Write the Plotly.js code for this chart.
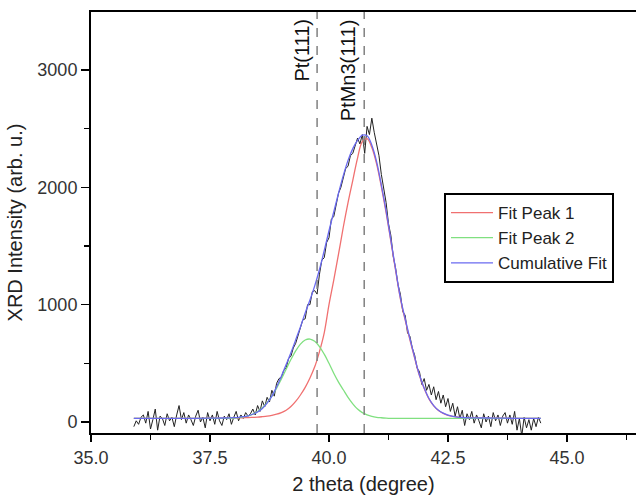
<!DOCTYPE html>
<html>
<head>
<meta charset="utf-8">
<script src="https://cdn.plot.ly/plotly-3.0.1.min.js"></script>
<style>html,body{margin:0;padding:0;background:#fff;}#chart{width:636px;height:500px;}</style>
</head>
<body>
<div id="chart"></div>
<script>
// Measured XRD data: start angle, step, intensities (rows of 10 = 0.5 degree each)
const dataStart = 35.90;
const dataStep = 0.05;
const dataIntensity = [
  -40, 10, -20, 40, 60, -10, 90, -60, 20, 110,          // 35.90
  -70, 50, 30, -30, 70, 10, 40, -40, 60, 140,           // 36.40
  20, 80, -10, 60, 20, -30, 50, 100, 0, 40,             // 36.90
  -50, 80, 10, 60, -20, 90, 10, -30, 50, 20,            // 37.40
  70, -20, 40, 90, 10, 60, 30, 80, 50, 70,              // 37.90
  110, 60, 140, 90, 180, 130, 210, 170, 270, 220,       // 38.40
  330, 370, 380, 440, 460, 540, 560, 630, 670, 740,     // 38.90
  790, 870, 880, 1000, 1000, 1110, 1120, 1090, 1260, 1380, // 39.40
  1400, 1530, 1570, 1730, 1750, 1850, 1950, 2000, 2070, 2160, // 39.90
  2180, 2270, 2290, 2360, 2420, 2370, 2450, 2290, 2520, 2450, // 40.40
  2590, 2470, 2360, 2270, 2110, 2000, 1870, 1690, 1590, 1410, // 40.90
  1310, 1170, 1090, 940, 910, 760, 730, 630, 570, 460,  // 41.40
  430, 320, 370, 270, 320, 230, 300, 190, 260, 160,     // 41.90
  230, 130, 200, 90, 160, 50, 130, 30, 100, -30,        // 42.40
  70, 20, 90, -10, 60, 10, -50, 70, 0, 50,              // 42.90
  -40, 80, 10, 60, -30, 50, 80, -10, 60, -20,           // 43.40
  90, -70, 30, -120, 40, -50, 20, -70, 30, -40,         // 43.90
  40, -10                                               // 44.40
];

// Fit curves
const fitTheta = [35.9, 36.5, 37.0, 37.5, 37.8, 38.0, 38.1, 38.2, 38.3, 38.4, 38.5, 38.6, 38.7, 38.8, 38.9,
  39.0, 39.1, 39.2, 39.3, 39.4, 39.5, 39.6, 39.7, 39.8, 39.9,
  40.0, 40.1, 40.2, 40.3, 40.4, 40.5, 40.6, 40.7, 40.8, 40.9,
  41.0, 41.1, 41.2, 41.3, 41.4, 41.5, 41.6, 41.7, 41.8, 41.9,
  42.0, 42.1, 42.2, 42.3, 42.4, 42.5, 42.6, 42.7, 42.8, 42.9,
  43.0, 43.5, 44.0, 44.45];
const fitPeak1 = [30, 30, 31, 32, 33, 34, 35, 36, 37, 39, 41, 45, 50, 57, 66,
  80, 100, 132, 175, 230, 295, 375, 470, 600, 760,
  1000, 1210, 1430, 1660, 1870, 2060, 2250, 2390, 2415, 2340,
  2200, 2005, 1785, 1540, 1290, 1050, 870, 700, 545, 395,
  285, 197, 137, 98, 73, 57, 47, 41, 37, 35,
  34, 32, 31, 30];
const fitPeak2 = [30, 30, 30, 30, 31, 34, 37, 43, 52, 67, 90, 122, 165, 221, 289,
  366, 450, 532, 606, 664, 699, 707, 688, 643, 578,
  500, 416, 340, 275, 210, 155, 110, 80, 61, 48,
  40, 36, 33, 31, 30, 30, 30, 30, 30, 30,
  30, 30, 30, 30, 30, 30, 30, 30, 30, 30,
  30, 30, 30, 30];
const cumulativeFit = [30, 30, 31, 32, 34, 37, 40, 45, 53, 66, 85, 115, 160, 220, 300,
  390, 490, 590, 700, 810, 930, 1040, 1160, 1300, 1460,
  1630, 1790, 1950, 2100, 2230, 2330, 2400, 2445, 2440, 2360,
  2220, 2020, 1800, 1550, 1300, 1060, 880, 710, 550, 400,
  290, 200, 140, 100, 75, 58, 48, 42, 38, 36,
  35, 33, 31, 30];

// Reference reflections
const refLabels = ['Pt(111)', 'PtMn3(111)'];
const refTheta = [39.75, 40.74];

const xTicks = [35, 37.5, 40, 42.5, 45];
const xTickText = ['35.0', '37.5', '40.0', '42.5', '45.0'];
const yTicks = [0, 1000, 2000, 3000];

const dataTheta = dataIntensity.map((_, i) => +(dataStart + i * dataStep).toFixed(3));

const FONT = '"Liberation Sans", Arial, sans-serif';

const traces = [
  {x: dataTheta, y: dataIntensity, type: 'scatter', mode: 'lines', showlegend: false,
   line: {color: '#222222', width: 1}},
  {x: fitTheta, y: fitPeak1, type: 'scatter', mode: 'lines', name: 'Fit Peak 1',
   line: {color: '#f07070', width: 1.3, shape: 'spline'}},
  {x: fitTheta, y: fitPeak2, type: 'scatter', mode: 'lines', name: 'Fit Peak 2',
   line: {color: '#80e080', width: 1.3, shape: 'spline'}},
  {x: fitTheta, y: cumulativeFit, type: 'scatter', mode: 'lines', name: 'Cumulative Fit',
   line: {color: '#6a6af0', width: 1.3, shape: 'spline'}}
];

const shapes = refTheta.map(t => ({
  type: 'line', xref: 'x', yref: 'paper', x0: t, x1: t, y0: 0, y1: 1,
  line: {color: '#808080', width: 1.5, dash: 'dash'}
}));

const annotations = refTheta.map((t, i) => ({
  x: t, xref: 'x', y: 1, yref: 'paper', text: refLabels[i], showarrow: false,
  textangle: -90, xanchor: 'right', yanchor: 'top', xshift: -3, yshift: -5,
  font: {family: FONT, size: 20, color: '#111'}
}));

const layout = {
  width: 636, height: 500,
  margin: {l: 91, r: 0, t: 12, b: 67},
  paper_bgcolor: '#fff', plot_bgcolor: '#fff',
  font: {family: FONT, color: '#222'},
  xaxis: {
    range: [35, 46.45], showgrid: false, zeroline: false,
    showline: true, linecolor: '#000', linewidth: 2, mirror: true,
    ticks: 'outside', ticklen: 7, tickwidth: 1.5, tickcolor: '#000',
    tickvals: xTicks, ticktext: xTickText,
    tickfont: {family: FONT, size: 18, color: '#333'},
    minor: {dtick: 1.25, tick0: 35, ticks: 'outside', ticklen: 5, tickwidth: 1.5, tickcolor: '#000'},
    title: {text: '2 theta (degree)', font: {family: FONT, size: 20, color: '#222'}, standoff: 10}
  },
  yaxis: {
    range: [-94, 3495], showgrid: false, zeroline: false,
    showline: true, linecolor: '#000', linewidth: 2, mirror: false,
    ticks: 'outside', ticklen: 8, tickwidth: 1.5, tickcolor: '#000',
    tickvals: yTicks,
    tickfont: {family: FONT, size: 18, color: '#333'},
    minor: {dtick: 500, tick0: 0, ticks: 'outside', ticklen: 5, tickwidth: 1.5, tickcolor: '#000'},
    title: {text: 'XRD Intensity (arb. u.)', font: {family: FONT, size: 20, color: '#222'}, standoff: 9}
  },
  legend: {
    x: 0.6477, y: 0.570, xanchor: 'left', yanchor: 'top',
    bgcolor: '#fff', bordercolor: '#000', borderwidth: 2,
    font: {family: FONT, size: 17, color: '#222'},
    itemwidth: 42, tracegroupgap: 0
  },
  shapes: shapes,
  annotations: annotations
};

Plotly.newPlot('chart', traces, layout, {displayModeBar: false, staticPlot: true});
</script>
</body>
</html>
